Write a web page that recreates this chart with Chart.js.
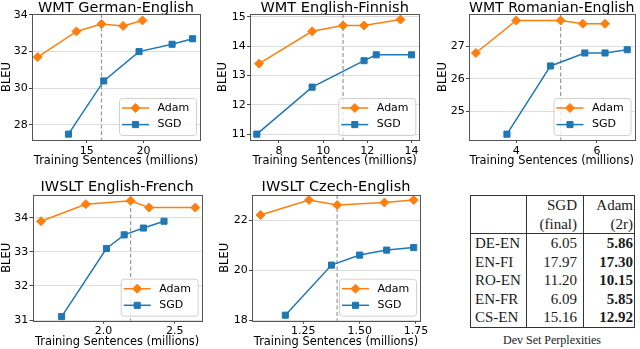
<!DOCTYPE html>
<html>
<head>
<meta charset="utf-8">
<script src="https://cdn.jsdelivr.net/npm/chart.js@4.4.1/dist/chart.umd.min.js"></script>
<style>
html, body { margin: 0; padding: 0; background: #fff; }
#wrap { position: relative; width: 640px; height: 349px; overflow: hidden; }
#wrap canvas { position: absolute; }
#ppl { position: absolute; left: 470px; top: 195px; width: 164px; table-layout: fixed;
  border-collapse: collapse; border: 1px solid #333; font: 15px "Liberation Serif", serif; color: #1a1a1a; }
#ppl td { padding: 0; height: 18.6px; line-height: 18.6px; border-left: 1px solid #333; border-right: 1px solid #333;
  white-space: nowrap; text-align: right; }
#ppl td.name { text-align: left; padding-left: 4px; }
#ppl td.c2 { padding-right: 6px; }
#ppl td.c3 { padding-right: 1px; }
#ppl tr.head td { height: 37px; line-height: 18.5px; border-bottom: 1px solid #333; }
#ppl td b { font-weight: bold; }
#cap { position: absolute; left: 470px; top: 332px; width: 164px; text-align: center;
  font: 12px "Liberation Serif", serif; color: #222; line-height: 16px; }
</style>
</head>
<body>
<div id="wrap">
  <canvas id="c0"></canvas>
  <canvas id="c1"></canvas>
  <canvas id="c2"></canvas>
  <canvas id="c3"></canvas>
  <canvas id="c4"></canvas>
  <table id="ppl"></table>
  <div id="cap">Dev Set Perplexities</div>
</div>
<script>
// WMT German-English
const deAdamX = [10.7, 14.1, 16.3, 18.2, 19.9];
const deAdamY = [31.7, 33.1, 33.5, 33.4, 33.7];
const deSgdX = [13.4, 16.5, 19.6, 22.5, 24.3];
const deSgdY = [27.5, 30.4, 32.0, 32.4, 32.7];
// WMT English-Finnish
const fiAdamX = [7.1, 9.5, 10.9, 11.85, 13.5];
const fiAdamY = [13.4, 14.5, 14.7, 14.7, 14.9];
const fiSgdX = [7.0, 9.5, 11.85, 12.4, 14.0];
const fiSgdY = [11.0, 12.6, 13.5, 13.7, 13.7];
// WMT Romanian-English
const roAdamX = [3.0, 4.0, 5.1, 5.65, 6.2];
const roAdamY = [26.8, 27.8, 27.8, 27.7, 27.7];
const roSgdX = [3.77, 4.85, 5.7, 6.2, 6.75];
const roSgdY = [24.3, 26.4, 26.8, 26.8, 26.9];
// IWSLT English-French
const frAdamX = [1.56, 1.875, 2.19, 2.32, 2.645];
const frAdamY = [33.9, 34.4, 34.5, 34.3, 34.3];
const frSgdX = [1.705, 2.02, 2.145, 2.28, 2.425];
const frSgdY = [31.1, 33.1, 33.5, 33.7, 33.9];
// IWSLT Czech-English
const csAdamX = [1.06, 1.275, 1.40, 1.61, 1.74];
const csAdamY = [22.2, 22.8, 22.6, 22.7, 22.8];
const csSgdX = [1.17, 1.375, 1.50, 1.62, 1.74];
const csSgdY = [18.2, 20.2, 20.6, 20.8, 20.9];

// dashed line: where Adam training was switched
const switchX = [16.3, 10.9, 5.1, 2.19, 1.40];

const titles = ['WMT German-English', 'WMT English-Finnish', 'WMT Romanian-English',
  'IWSLT English-French', 'IWSLT Czech-English'];
const xTicks = [[15, 20], [8, 10, 12, 14], [4, 6], [2.0, 2.5], [1.25, 1.5, 1.75]];
const xTickLabels = [['15', '20'], ['8', '10', '12', '14'], ['4', '6'], ['2.0', '2.5'], ['1.25', '1.50', '1.75']];
const yTicks = [[28, 30, 32, 34], [11, 12, 13, 14, 15], [25, 26, 27], [31, 32, 33, 34], [18, 20, 22]];

// perplexity table
const pairs = ['DE-EN', 'EN-FI', 'RO-EN', 'EN-FR', 'CS-EN'];
const sgdFinal = [6.05, 17.97, 11.20, 6.09, 15.16];
const adam2r = [5.86, 17.30, 10.15, 5.85, 12.92];

const series = [
  [deAdamX, deAdamY, deSgdX, deSgdY],
  [fiAdamX, fiAdamY, fiSgdX, fiSgdY],
  [roAdamX, roAdamY, roSgdX, roSgdY],
  [frAdamX, frAdamY, frSgdX, frSgdY],
  [csAdamX, csAdamY, csSgdX, csSgdY]
];

// canvas box + plot area (page pixels) + axis ranges
const panels = [
  { left: 0, top: 0, w: 212, h: 175, pl: 32, pr: 200, pt: 14, pb: 140,
    xmin: 10.2, xmax: 24.95, ymin: 27.18, ymax: 34.05, yPad: 0, xPad: 6.7, tTop: 1.5, tBot: 0 },
  { left: 212, top: 0, w: 214, h: 175, pl: 250, pr: 419.3, pt: 14, pb: 140,
    xmin: 6.69, xmax: 14.35, ymin: 10.8, ymax: 15.09, yPad: 4.5, xPad: 6.7, tTop: 1.5, tBot: 0 },
  { left: 426, top: 0, w: 214, h: 175, pl: 469, pr: 638, pt: 14, pb: 140,
    xmin: 2.83, xmax: 6.93, ymin: 24.12, ymax: 28.0, yPad: 10.5, xPad: 6.7, tTop: 1.5, tBot: 0 },
  { left: 0, top: 175, w: 212, h: 174, pl: 32.5, pr: 201.7, pt: 195, pb: 320.7,
    xmin: 1.50, xmax: 2.69, ymin: 30.98, ymax: 34.67, yPad: 0, xPad: 0, tTop: 5.5, tBot: 2 },
  { left: 212, top: 175, w: 218, h: 174, pl: 252, pr: 420, pt: 195, pb: 320.7,
    xmin: 1.022, xmax: 1.768, ymin: 17.98, ymax: 23.0, yPad: 6.2, xPad: 0, tTop: 5.5, tBot: 2 }
];

const ORANGE = '#ff7f0e';
const BLUE = '#1f77b4';
Chart.defaults.font.family = '"DejaVu Sans", sans-serif';
Chart.defaults.color = '#000';

const switchLine = {
  id: 'switchLine',
  beforeDatasetsDraw(chart, args, opts) {
    const a = chart.chartArea;
    const x = chart.scales.x.getPixelForValue(opts.value);
    const ctx = chart.ctx;
    ctx.save();
    ctx.strokeStyle = '#999';
    ctx.lineWidth = 1.2;
    ctx.setLineDash([4, 2.5]);
    ctx.beginPath();
    ctx.moveTo(x, a.top);
    ctx.lineTo(x, a.bottom);
    ctx.stroke();
    ctx.restore();
  }
};

const frameAndLegend = {
  id: 'frameAndLegend',
  afterDraw(chart) {
    const a = chart.chartArea;
    const ctx = chart.ctx;
    ctx.save();
    ctx.strokeStyle = '#555';
    ctx.lineWidth = 1;
    ctx.strokeRect(Math.round(a.left) + 0.5, Math.round(a.top) + 0.5,
      Math.round(a.right) - Math.round(a.left), Math.round(a.bottom) - Math.round(a.top));

    const w = 77, h = 37;
    const x = a.right - 4 - w, y = a.bottom - 5 - h;
    ctx.beginPath();
    ctx.roundRect(x + 0.5, y + 0.5, w, h, 3);
    ctx.fillStyle = 'rgba(255,255,255,0.8)';
    ctx.fill();
    ctx.strokeStyle = '#d0d0d0';
    ctx.stroke();
    chart.data.datasets.forEach((ds, i) => {
      const cy = y + 10 + i * 16.6;
      ctx.strokeStyle = ds.borderColor;
      ctx.lineWidth = 1.5;
      ctx.beginPath();
      ctx.moveTo(x + 3, cy);
      ctx.lineTo(x + 30, cy);
      ctx.stroke();
      ctx.fillStyle = ds.backgroundColor;
      ctx.lineWidth = 1;
      Chart.helpers.drawPoint(ctx, { pointStyle: ds.pointStyle, radius: ds.pointRadius, rotation: 0, borderWidth: 1 }, x + 16.5, cy);
      ctx.fillStyle = '#000';
      ctx.font = '11px "DejaVu Sans", sans-serif';
      ctx.textBaseline = 'middle';
      ctx.textAlign = 'left';
      ctx.fillText(ds.label, x + 38.5, cy);
    });
    ctx.restore();
  }
};

function pts(xs, ys) {
  return xs.map((v, i) => ({ x: v, y: ys[i] }));
}

panels.forEach((p, k) => {
  const cv = document.getElementById('c' + k);
  cv.width = p.w;
  cv.height = p.h;
  cv.style.left = p.left + 'px';
  cv.style.top = p.top + 'px';
  cv.style.width = p.w + 'px';
  cv.style.height = p.h + 'px';
  const s = series[k];

  new Chart(cv.getContext('2d'), {
    type: 'line',
    data: {
      datasets: [
        { label: 'Adam', data: pts(s[0], s[1]), borderColor: ORANGE, backgroundColor: ORANGE,
          pointStyle: 'rectRot', pointRadius: 4.5, pointHoverRadius: 4.5, pointBorderWidth: 1,
          borderWidth: 1.5, tension: 0 },
        { label: 'SGD', data: pts(s[2], s[3]), borderColor: BLUE, backgroundColor: BLUE,
          pointStyle: 'rect', pointRadius: 4.3, pointHoverRadius: 4.3, pointBorderWidth: 1,
          borderWidth: 1.5, tension: 0 }
      ]
    },
    options: {
      responsive: false,
      animation: false,
      devicePixelRatio: 1,
      layout: { padding: { left: 0, top: 0, bottom: 0, right: p.left + p.w - p.pr } },
      plugins: {
        legend: { display: false },
        tooltip: { enabled: false },
        title: { display: true, text: titles[k], fullSize: false, color: '#000',
          font: { size: 14.5, weight: 'normal', lineHeight: 12.5 / 14.5 }, padding: { top: p.tTop, bottom: p.tBot } },
        switchLine: { value: switchX[k] }
      },
      scales: {
        x: {
          type: 'linear', min: p.xmin, max: p.xmax,
          afterBuildTicks: sc => { sc.ticks = xTicks[k].map(v => ({ value: v })); },
          afterFit: sc => { sc.height = p.h - (p.pb - p.top); sc.paddingLeft = 0; sc.paddingRight = 0; },
          ticks: { font: { size: 11 }, color: '#000', padding: 1.2, maxRotation: 0,
            callback: (v, i) => xTickLabels[k][i] },
          grid: { drawOnChartArea: false, drawTicks: true, tickLength: 3, tickColor: '#444' },
          border: { display: false },
          title: { display: true, text: 'Training Sentences (millions)', color: '#000',
            font: { size: 11.4 }, padding: { top: 0, bottom: p.xPad } }
        },
        y: {
          type: 'linear', min: p.ymin, max: p.ymax,
          afterBuildTicks: sc => { sc.ticks = yTicks[k].map(v => ({ value: v })); },
          afterFit: sc => { sc.width = p.pl - p.left; sc.paddingTop = 0; sc.paddingBottom = 0; },
          ticks: { font: { size: 11 }, color: '#000', padding: 1.3 },
          grid: { color: '#dddddd', lineWidth: 1, drawTicks: true, tickLength: 3, tickColor: '#444' },
          border: { display: false },
          title: { display: true, text: 'BLEU', color: '#000',
            font: { size: 11.5 }, padding: { top: p.yPad, bottom: 0 } }
        }
      }
    },
    plugins: [switchLine, frameAndLegend]
  });
});

// table
const tbl = document.getElementById('ppl');
let html = '<colgroup><col style="width:56px"><col style="width:57px"><col style="width:51px"></colgroup>';
html += '<tr class="head"><td class="name"></td><td class="c2">SGD<br>(final)</td><td class="c3">Adam<br>(2r)</td></tr>';
pairs.forEach((name, i) => {
  html += '<tr><td class="name">' + name + '</td><td class="c2">' + sgdFinal[i].toFixed(2) +
    '</td><td class="c3"><b>' + adam2r[i].toFixed(2) + '</b></td></tr>';
});
tbl.innerHTML = html;
</script>
</body>
</html>
